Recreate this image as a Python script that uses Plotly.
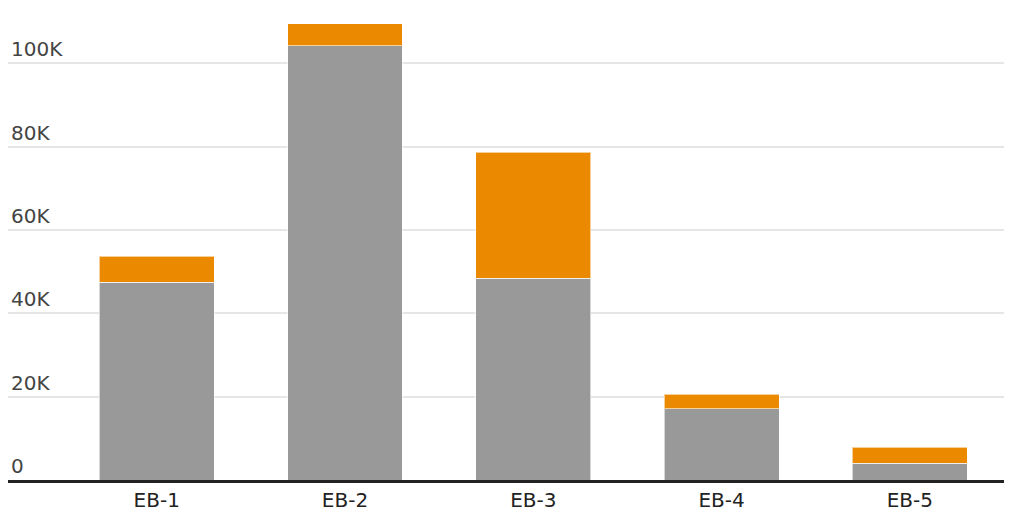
import plotly.graph_objects as go

# EB categories, stacked values
categories = ['EB-1', 'EB-2', 'EB-3', 'EB-4', 'EB-5']
gray_values = [47500, 104200, 48400, 17100, 4000]
orange_values = [6200, 5300, 30300, 3500, 3900]
tick_vals = [0, 20000, 40000, 60000, 80000, 100000]
tick_text = ['0', '20K', '40K', '60K', '80K', '100K']

fig = go.Figure()
fig.add_trace(go.Bar(x=categories, y=gray_values, name='gray', width=0.61,
                     marker=dict(color='#999999', line=dict(color='rgba(255,255,255,0.6)', width=1))))
fig.add_trace(go.Bar(x=categories, y=orange_values, name='orange', width=0.61,
                     marker=dict(color='#EB8A00', line=dict(color='rgba(255,255,255,0.6)', width=1))))

# page has an 8px body margin, so the figure is a bit smaller than the window
fig.update_layout(
    barmode='stack',
    width=1016, height=504,
    margin=dict(l=0, r=20, t=0, b=32),
    plot_bgcolor='white', paper_bgcolor='white',
    showlegend=False,
    font=dict(family='DejaVu Sans', size=20, color='#222222'),
)
fig.update_xaxes(range=[-0.79, 4.5], showline=True, linecolor='#222222', linewidth=3,
                 showgrid=False, ticks='', tickfont=dict(size=20))
fig.update_yaxes(range=[0, 113300], tickvals=tick_vals, ticktext=tick_text,
                 showgrid=True, gridcolor='#e6e6e6', gridwidth=1.5, zeroline=False,
                 ticklabelposition='inside top', tickfont=dict(size=20))

fig.write_html("out.html")
